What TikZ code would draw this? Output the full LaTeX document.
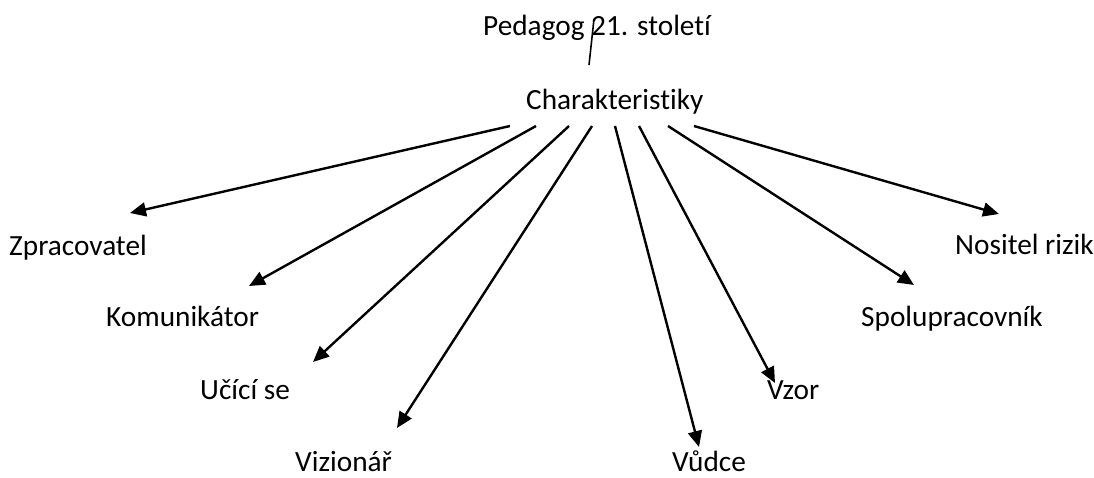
\documentclass[tikz,border=0pt]{standalone}
\usepackage{fontspec}
\setmainfont{Carlito}[Ligatures=NoCommon]
\usepackage{tikz}
\usetikzlibrary{arrows,arrows.meta,positioning,calc}

\tikzset{
  lbl/.style = {anchor=base west, inner sep=0pt, font=\fontsize{29.3}{35}\selectfont},
  arr/.style = {line width=2.4pt, -{Triangle[length=16pt,width=14pt]}}
}

\begin{document}
\begin{tikzpicture}[x=1pt, y=-1pt]
    \useasboundingbox (0,0) rectangle (1094,477);
	        % Nadpis a charakteristiky
	        \node[lbl] (ped)  at (483,35)  {Pedagog 21. století};
	        \node[lbl] (char) at (526,109) {Charakteristiky};
	        \coordinate (ped-a) at (594,19);
	        \coordinate (ped-b) at (589,65);
	        \draw[line width=1.6pt] (ped-a) -- (ped-b);
	        % Popisky vlevo
	        \node[lbl] (zpr)  at (9,255)   {Zpracovatel};
	        \node[lbl] (kom)  at (106,326) {Komunikátor};
	        \node[lbl] (uci)  at (200,399) {Učící se};
	        \node[lbl] (viz)  at (295,471) {Vizionář};
	        % Popisky vpravo
	        \node[lbl] (vud)  at (672,471) {Vůdce};
	        \node[lbl] (vzor) at (767,399) {Vzor};
	        \node[lbl] (spol) at (861,326) {Spolupracovník};
	        \node[lbl] (nos)  at (955,254) {Nositel rizik};
	        % Sipky od charakteristik
	        \foreach \n/\sx/\tx/\ty in {zpr/510/130/213, kom/536/249/286, uci/569/313/362, viz/592/397/428,
	                                    vud/615/699/447, vzor/639/775/383, spol/668/914/285, nos/694/999/214}
	        {
	            \coordinate (\n-from) at (\sx,126);
	            \coordinate (\n-to) at (\tx,\ty);
	            \draw[arr] (\n-from) -- (\n-to);
	        }
\end{tikzpicture}
\end{document}
